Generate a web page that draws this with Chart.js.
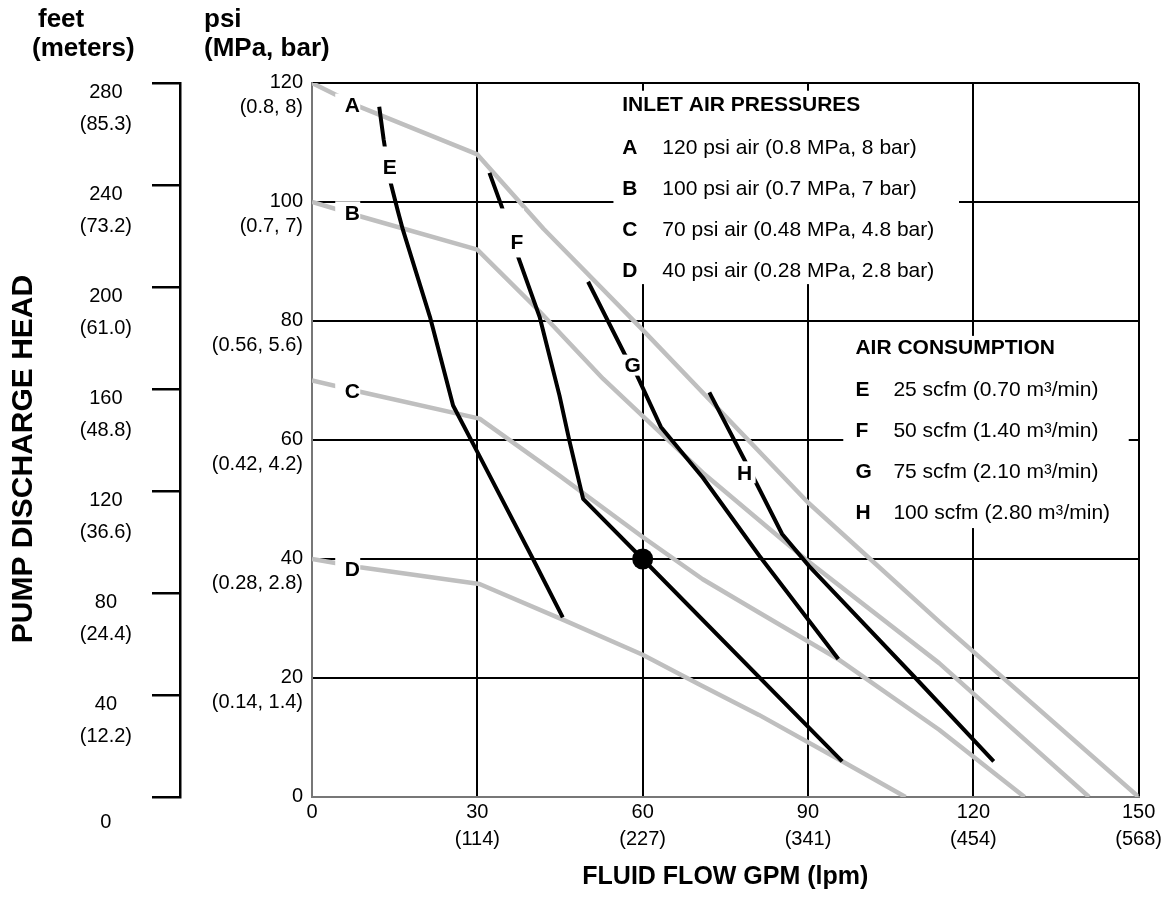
<!DOCTYPE html>
<html><head><meta charset="utf-8">
<script src="https://cdn.jsdelivr.net/npm/chart.js@4.4.0/dist/chart.umd.min.js"></script>
<style>html,body{margin:0;padding:0;background:#fff;}canvas{display:block;}</style>
</head><body>
<canvas id="c" width="1164" height="906"></canvas>
<script>
// ---- tick labels ----
const flowTicks = [0, 30, 60, 90, 120, 150];
const flowLpmLabels = ["", "(114)", "(227)", "(341)", "(454)", "(568)"];
const psiTicks = [0, 20, 40, 60, 80, 100, 120];
const psiMetricLabels = ["", "(0.14, 1.4)", "(0.28, 2.8)", "(0.42, 4.2)", "(0.56, 5.6)", "(0.7, 7)", "(0.8, 8)"];
const feetTicks = [0, 40, 80, 120, 160, 200, 240, 280];
const meterLabels = ["", "(12.2)", "(24.4)", "(36.6)", "(48.8)", "(61.0)", "(73.2)", "(85.3)"];

// ---- inlet air pressure curves (flow gpm, discharge psi) ----
const pressA_flow = [0, 8.7, 30, 42, 60, 90, 114, 150];
const pressA_psi  = [120, 116, 108, 95.5, 78.5, 49.5, 29.3, 0];
const pressB_flow = [0, 8.7, 30, 41.3, 52.8, 70.9, 89.5, 113.8, 141];
const pressB_psi  = [100, 97.6, 92, 81.6, 70.3, 54.5, 40, 22.5, 0];
const pressC_flow = [0, 8.7, 30.4, 44.9, 60, 70.9, 81.1, 95.6, 113.8, 129.3];
const pressC_psi  = [70, 68.1, 63.6, 54, 43.7, 36.6, 31, 23.1, 11.3, 0];
const pressD_flow = [0, 8.7, 30.4, 45.5, 60, 70.3, 81.1, 96.2, 107.7];
const pressD_psi  = [40, 38.6, 35.8, 29.8, 23.9, 18.9, 13.8, 6, 0];

// ---- air consumption curves ----
const airE_flow = [12.2, 13, 14.2, 15.6, 16.5, 21.4, 25.6, 30.4, 40.1, 45.5];
const airE_psi  = [116, 110.5, 103.5, 98.4, 95.3, 80.7, 65.8, 57.3, 40, 30.2];
const airF_flow = [32.2, 34.4, 37.4, 41.3, 44.9, 46.7, 49.2, 60, 96.2];
const airF_psi  = [104.9, 99.3, 90.8, 80.7, 67.5, 59.9, 50.1, 40, 6];
const airG_flow = [50.1, 56.7, 58.8, 63.3, 70.9, 81.2, 95.5];
const airG_psi  = [86.6, 74.5, 71.2, 62.2, 53.7, 40.5, 23.2];
const airH_flow = [72.1, 78.4, 85.3, 90.2, 109.5, 123.7];
const airH_psi  = [68, 56.8, 44.2, 38.8, 20, 6];

// ---- operating point ----
const opPoint_flow = [60];
const opPoint_psi  = [40];

// ---- legend texts ----
const pressureLetters = ["A", "B", "C", "D"];
const pressureTexts = ["120 psi air (0.8 MPa, 8 bar)", "100 psi air (0.7 MPa, 7 bar)", "70 psi air (0.48 MPa, 4.8 bar)", "40 psi air (0.28 MPa, 2.8 bar)"];
const consumptionLetters = ["E", "F", "G", "H"];
const consumptionPre = ["25 scfm (0.70 m", "50 scfm (1.40 m", "75 scfm (2.10 m", "100 scfm (2.80 m"];
const consumptionPost = ["/min)", "/min)", "/min)", "/min)"];

const FONT = "'Liberation Sans', Arial, Helvetica, sans-serif";
const GRAY = '#bfbfbf';

const pts = (xs, ys) => xs.map((x, i) => ({x: x, y: ys[i]}));

// curve-letter annotations: anchor in data units, white gap box in px
const curveLabels = [
  {t: 'A', x: 7.3, y: 116.2, box: [-17, 8, -12, 12]},
  {t: 'B', x: 7.3, y: 98.1, box: [-17, 8, -12, 12]},
  {t: 'C', x: 7.3, y: 68.2, box: [-17, 8, -12, 12]},
  {t: 'D', x: 7.3, y: 38.3, box: [-17, 8, -12, 12]},
  {t: 'E', x: 14.1, y: 105.8, box: [-10, 10, -21, 16]},
  {t: 'F', x: 37.2, y: 93.2, box: [-20, 7, -34, 15]},
  {t: 'G', x: 58.2, y: 72.5, box: [-13, 8, -11, 10]},
  {t: 'H', x: 78.5, y: 54.4, box: [-10, 11, -12, 10]}
];
const legendBoxes = [
  {x0: 54.7, x1: 117.4, y0: 86.2, y1: 118.7},
  {x0: 96.4, x1: 148.2, y0: 45.2, y1: 77.5}
];

function lineDs(xs, ys, color, width, order) {
  return {data: pts(xs, ys), showLine: true, borderColor: color, borderWidth: width,
    pointRadius: 0, fill: false, tension: 0, order: order,
    borderCapStyle: 'butt', borderJoinStyle: 'round'};
}

const overlay = {
  id: 'overlay',
  beforeDatasetsDraw(chart) {
    const ctx = chart.ctx, sx = chart.scales.x, sy = chart.scales.y;
    ctx.save();
    ctx.fillStyle = '#fff';
    legendBoxes.forEach(b => {
      const x0 = sx.getPixelForValue(b.x0), x1 = sx.getPixelForValue(b.x1);
      const y0 = sy.getPixelForValue(b.y1), y1 = sy.getPixelForValue(b.y0);
      ctx.fillRect(x0, y0, x1 - x0, y1 - y0);
    });
    ctx.restore();
  },
  afterDatasetsDraw(chart) {
    const ctx = chart.ctx, sx = chart.scales.x, sy = chart.scales.y;
    ctx.save();
    // curve letters
    ctx.font = 'bold 21px ' + FONT;
    ctx.textAlign = 'center';
    ctx.textBaseline = 'middle';
    curveLabels.forEach(l => {
      const cx = sx.getPixelForValue(l.x), cy = sy.getPixelForValue(l.y);
      ctx.fillStyle = '#fff';
      ctx.fillRect(cx + l.box[0], cy + l.box[2], l.box[1] - l.box[0], l.box[3] - l.box[2]);
      ctx.fillStyle = '#000';
      ctx.fillText(l.t, cx, cy + 1);
    });
    // inlet legend
    ctx.textAlign = 'left';
    const ix = sx.getPixelForValue(56.3), iy = sy.getPixelForValue(116.3);
    ctx.font = 'bold 21px ' + FONT;
    ctx.fillText('INLET AIR PRESSURES', ix, iy);
    pressureLetters.forEach((L, i) => {
      const y = iy + 43 + i * 41.2;
      ctx.font = 'bold 21px ' + FONT;
      ctx.fillText(L, ix, y);
      ctx.font = '21px ' + FONT;
      ctx.fillText(pressureTexts[i], ix + 40, y);
    });
    // air consumption legend
    const ax = sx.getPixelForValue(98.6), ay = sy.getPixelForValue(75.5);
    ctx.font = 'bold 21px ' + FONT;
    ctx.fillText('AIR CONSUMPTION', ax, ay);
    consumptionLetters.forEach((L, i) => {
      const y = ay + 42 + i * 41;
      ctx.font = 'bold 21px ' + FONT;
      ctx.fillText(L, ax, y);
      ctx.font = '21px ' + FONT;
      let x = ax + 38;
      ctx.fillText(consumptionPre[i], x, y);
      x += ctx.measureText(consumptionPre[i]).width;
      ctx.font = '14px ' + FONT;
      ctx.fillText('3', x, y - 2);
      x += ctx.measureText('3').width;
      ctx.font = '21px ' + FONT;
      ctx.fillText(consumptionPost[i], x, y);
    });
    // corner titles
    ctx.font = 'bold 26px ' + FONT;
    ctx.textBaseline = 'alphabetic';
    ctx.fillText('feet', 38, 27);
    ctx.fillText('(meters)', 32, 56);
    ctx.fillText('psi', 204, 27);
    ctx.fillText('(MPa, bar)', 204, 56);
    // vertical title
    ctx.translate(24, 459);
    ctx.rotate(-Math.PI / 2);
    ctx.font = 'bold 30px ' + FONT;
    ctx.textAlign = 'center';
    ctx.textBaseline = 'middle';
    ctx.fillText('PUMP DISCHARGE HEAD', 0, 0);
    ctx.restore();
  }
};

Chart.defaults.font.family = FONT;
Chart.defaults.color = '#000';

new Chart(document.getElementById('c'), {
  type: 'scatter',
  data: {
    datasets: [
      {data: pts(opPoint_flow, opPoint_psi), pointRadius: 10.5, backgroundColor: '#000', borderWidth: 0, order: 0},
      lineDs(airE_flow, airE_psi, '#000', 4, 1),
      lineDs(airF_flow, airF_psi, '#000', 4, 1),
      lineDs(airG_flow, airG_psi, '#000', 4, 1),
      lineDs(airH_flow, airH_psi, '#000', 4, 1),
      lineDs(pressA_flow, pressA_psi, GRAY, 4.5, 2),
      lineDs(pressB_flow, pressB_psi, GRAY, 4.5, 2),
      lineDs(pressC_flow, pressC_psi, GRAY, 4.5, 2),
      lineDs(pressD_flow, pressD_psi, GRAY, 4.5, 2)
    ]
  },
  options: {
    responsive: false,
    animation: false,
    devicePixelRatio: 1,
    events: [],
    layout: {padding: {top: 83, right: 24, bottom: 0, left: 0}},
    plugins: {legend: {display: false}, tooltip: {enabled: false}},
    scales: {
      x: {
        type: 'linear', position: 'bottom', min: 0, max: 150,
        afterBuildTicks: s => { s.ticks = flowTicks.map(v => ({value: v})); },
        ticks: {
          autoSkip: false, maxRotation: 0, padding: 2, color: '#000',
          font: {size: 20, lineHeight: 1.35},
          callback: v => { const i = flowTicks.indexOf(v); return i <= 0 ? String(v) : [String(v), flowLpmLabels[i]]; }
        },
        grid: {drawTicks: false, lineWidth: 2, color: c => (c.tick && c.tick.value === 0) ? 'rgba(0,0,0,0)' : '#000'},
        border: {color: '#777', width: 2},
        title: {display: true, text: 'FLUID FLOW GPM (lpm)', color: '#000', font: {size: 25, weight: 'bold', lineHeight: 1.2}, padding: {top: 0, bottom: 14}},
        afterFit: s => { s.height = 109; }
      },
      y: {
        type: 'linear', position: 'left', weight: 0, min: 0, max: 120,
        afterBuildTicks: s => { s.ticks = psiTicks.map(v => ({value: v})); },
        ticks: {
          autoSkip: false, padding: 9, labelOffset: 12, color: '#000',
          font: {size: 20, lineHeight: 1.25},
          callback: v => { const i = psiTicks.indexOf(v); return [String(v), psiMetricLabels[i]]; }
        },
        grid: {drawTicks: false, lineWidth: 2, color: c => (c.tick && c.tick.value === 0) ? 'rgba(0,0,0,0)' : '#000'},
        border: {color: '#777', width: 2},
        afterFit: s => { s.width = 132; }
      },
      feet: {
        type: 'linear', position: 'left', weight: 1, min: 0, max: 280,
        afterBuildTicks: s => { s.ticks = feetTicks.map(v => ({value: v})); },
        ticks: {
          autoSkip: false, padding: 20, labelOffset: 25, crossAlign: 'center', color: '#000',
          font: {size: 20, lineHeight: 1.6},
          callback: v => { const i = feetTicks.indexOf(v); return i <= 0 ? String(v) : [String(v), meterLabels[i]]; }
        },
        grid: {drawOnChartArea: false, drawTicks: true, tickLength: 28, lineWidth: 2.5, color: '#000'},
        border: {color: '#000', width: 2.5},
        afterFit: s => { s.width = 180; }
      }
    }
  },
  plugins: [overlay]
});
</script>
</body></html>
